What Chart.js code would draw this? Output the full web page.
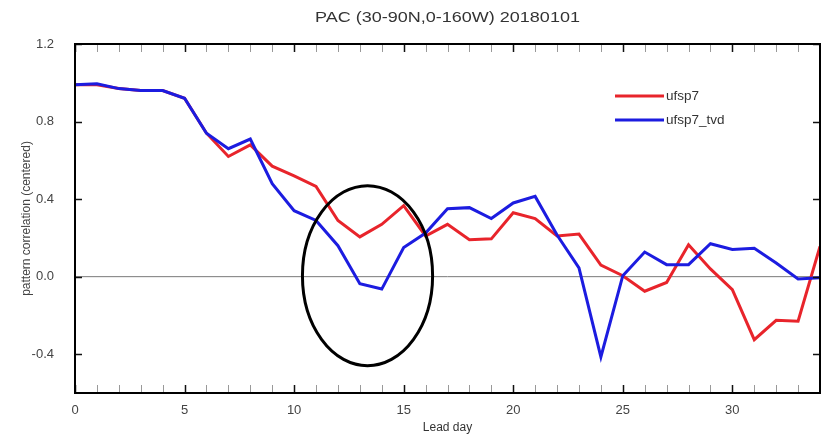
<!DOCTYPE html>
<html>
<head>
<meta charset="utf-8">
<script src="https://cdn.jsdelivr.net/npm/chart.js@4.4.1/dist/chart.umd.min.js"></script>
<style>
  html, body { margin: 0; padding: 0; background: #fff; }
  #wrap { width: 829px; height: 435px; }
</style>
</head>
<body>
<div id="wrap"><canvas id="pacChart" width="829" height="435"></canvas></div>
<script>
// lead days 0..34
const leadDays = [0,1,2,3,4,5,6,7,8,9,10,11,12,13,14,15,16,17,18,19,20,21,22,23,24,25,26,27,28,29,30,31,32,33,34];

const ufsp7 = [0.99,0.99,0.97,0.96,0.96,0.92,0.74,0.62,0.68,0.57,0.52,0.465,0.29,0.205,0.27,0.366,0.21,0.27,0.19,0.195,0.33,0.30,0.21,0.22,0.06,0.005,-0.075,-0.03,0.165,0.04,-0.067,-0.325,-0.225,-0.23,0.156];

const ufsp7Tvd = [0.99,0.995,0.97,0.96,0.96,0.92,0.74,0.66,0.71,0.48,0.34,0.29,0.16,-0.036,-0.064,0.15,0.225,0.35,0.356,0.30,0.38,0.414,0.215,0.045,-0.414,0.005,0.127,0.062,0.062,0.17,0.14,0.146,0.07,-0.012,-0.005];

const seriesNames = ['ufsp7', 'ufsp7_tvd'];
const xTickLabels = [0, 5, 10, 15, 20, 25, 30];
const yTickLabels = [-0.4, 0.0, 0.4, 0.8, 1.2];
const chartTitle = 'PAC (30-90N,0-160W) 20180101';

const RED = '#e8242b';
const BLUE = '#1c1ce0';
const FONT = '"Liberation Sans", Arial, Helvetica, sans-serif';

function toPoints(vals) {
    return leadDays.map((d, i) => ({ x: d, y: vals[i] }));
}

// zero line, inward ticks, frame, title, legend and the hand-drawn circle
const decorations = {
    id: 'decorations',
    beforeDatasetsDraw(chart) {
        const { ctx, chartArea: a, scales: { y } } = chart;
        const y0 = y.getPixelForValue(0);
        ctx.save();
        ctx.strokeStyle = '#7a7a7a';
        ctx.lineWidth = 1;
        ctx.beginPath();
        ctx.moveTo(a.left, y0);
        ctx.lineTo(a.right, y0);
        ctx.stroke();
        ctx.restore();
    },
    afterDraw(chart) {
        const { ctx, chartArea: a, scales: { x, y } } = chart;
        ctx.save();

        // ticks along top and bottom, one per day
        leadDays.forEach(d => {
            const px = Math.round(x.getPixelForValue(d)) + 0.5;
            const major = d % 5 === 0;
            ctx.strokeStyle = major ? '#111' : '#999';
            ctx.lineWidth = major ? 1.5 : 1;
            const len = 8;
            ctx.beginPath();
            ctx.moveTo(px, a.bottom); ctx.lineTo(px, a.bottom - len);
            ctx.moveTo(px, a.top); ctx.lineTo(px, a.top + len);
            ctx.stroke();
        });

        // ticks on left and right
        yTickLabels.forEach(v => {
            const py = Math.round(y.getPixelForValue(v)) + 0.5;
            ctx.strokeStyle = '#111';
            ctx.lineWidth = 1.5;
            ctx.beginPath();
            ctx.moveTo(a.left, py); ctx.lineTo(a.left + 7, py);
            ctx.moveTo(a.right, py); ctx.lineTo(a.right - 7, py);
            ctx.stroke();
        });

        // frame
        ctx.strokeStyle = '#000';
        ctx.lineWidth = 2;
        ctx.strokeRect(a.left, a.top, a.right - a.left, a.bottom - a.top);

        // title, centred over the plot, slightly widened like the original
        ctx.save();
        ctx.translate((a.left + a.right) / 2, 18);
        ctx.scale(1.2, 1);
        ctx.font = '15px ' + FONT;
        ctx.fillStyle = '#333';
        ctx.textAlign = 'center';
        ctx.textBaseline = 'middle';
        ctx.fillText(chartTitle, 0, 0);
        ctx.restore();

        // legend
        const colors = [RED, BLUE];
        ctx.font = '13.5px ' + FONT;
        ctx.textBaseline = 'middle';
        ctx.fillStyle = '#333';
        seriesNames.forEach((name, i) => {
            const ly = 96 + i * 24;
            ctx.strokeStyle = colors[i];
            ctx.lineWidth = 3;
            ctx.beginPath();
            ctx.moveTo(615, ly); ctx.lineTo(664, ly);
            ctx.stroke();
            ctx.fillText(name, 666, ly);
        });

        // circle marking the day 12-15 dip
        const cx = x.getPixelForValue(13.35);
        const cy = y.getPixelForValue(0.005);
        const rx = x.getPixelForValue(13.35 + 2.97) - cx;
        const ry = cy - y.getPixelForValue(0.005 + 0.464);
        ctx.strokeStyle = '#000';
        ctx.lineWidth = 3;
        ctx.beginPath();
        ctx.ellipse(cx, cy, rx, ry, 0, 0, Math.PI * 2);
        ctx.stroke();

        ctx.restore();
    }
};

new Chart(document.getElementById('pacChart'), {
    type: 'line',
    data: {
        datasets: [
            { label: seriesNames[0], data: toPoints(ufsp7), borderColor: RED, borderWidth: 3, pointRadius: 0, tension: 0, order: 1 },
            { label: seriesNames[1], data: toPoints(ufsp7Tvd), borderColor: BLUE, borderWidth: 3, pointRadius: 0, tension: 0, order: 0 }
        ]
    },
    options: {
        responsive: false,
        animation: false,
        layout: { padding: { left: 0, right: 9, top: 44, bottom: 0 } },
        plugins: {
            legend: { display: false },
            tooltip: { enabled: false },
            title: { display: false }
        },
        scales: {
            x: {
                type: 'linear',
                min: 0,
                max: 34,
                afterBuildTicks: s => { s.ticks = xTickLabels.map(v => ({ value: v })); },
                afterFit: s => { s.height = 42; },
                grid: { display: false, drawTicks: false },
                border: { display: false },
                ticks: { color: '#444', padding: 10, maxRotation: 0, font: { family: FONT, size: 13 } },
                title: { display: true, text: 'Lead day', color: '#333', padding: { top: 1, bottom: 0 }, font: { family: FONT, size: 12 } }
            },
            y: {
                type: 'linear',
                min: -0.6,
                max: 1.2,
                afterBuildTicks: s => { s.ticks = yTickLabels.map(v => ({ value: v })); },
                afterFit: s => { s.width = 75; },
                grid: { display: false, drawTicks: false },
                border: { display: false },
                ticks: { color: '#444', padding: 21, callback: v => v.toFixed(1), font: { family: FONT, size: 13 } },
                title: { display: true, text: 'pattern correlation (centered)', color: '#444', padding: { top: 19, bottom: 0 }, font: { family: FONT, size: 12 } }
            }
        }
    },
    plugins: [decorations]
});
</script>
</body>
</html>
